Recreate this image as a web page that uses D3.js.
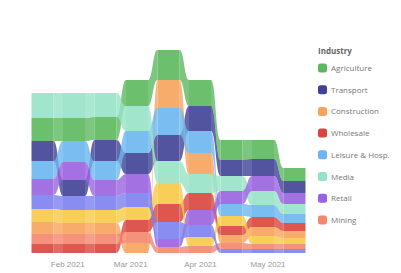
<!DOCTYPE html>
<html>
<head>
<meta charset="utf-8">
<script src="https://cdn.jsdelivr.net/npm/d3@7"></script>
<style>
  body { margin: 0; background: #fff; }
  svg { display: block; font-family: "Open Sans", sans-serif; }
</style>
</head>
<body>
<svg></svg>
<script>
// biweekly periods
const dates = ["2021-01-21", "2021-02-04", "2021-02-18", "2021-03-04", "2021-03-18",
               "2021-04-01", "2021-04-15", "2021-04-29", "2021-05-13"]

const seriesNames = ["Agriculture", "Transport", "Construction", "Wholesale",
  "Leisure & Hosp.", "Media", "Retail", "Mining", "Finance", "Education"]
const seriesColors = ["#5cb85c", "#3f4196", "#f7a35c", "#d9453d", "#6bb6f0",
  "#96e2c6", "#9a62e0", "#f4866e", "#f6c945", "#7c80ee"]

const agriculture  = [23, 23, 23, 26, 30, 26, 20, 19, 13]
const transport    = [20, 16, 21, 21, 26, 25, 16, 17, 12]
const construction = [12, 11, 11, 10, 28, 21, 8, 9, 7]
const wholesale    = [9, 9, 9, 12, 18, 17, 9, 10, 8]
const leisure      = [18, 21, 19, 22, 27, 22, 12, 12, 9]
const media        = [25, 25, 24, 25, 22, 19, 15, 14, 10]
const retail       = [16, 18, 16, 19, 8, 15, 13, 15, 11]
const mining       = [10, 10, 10, 11, 6, 7, 6, 5, 5]
const finance      = [13, 13, 13, 13, 21, 9, 10, 8, 6]
const education    = [14, 14, 14, 14, 17, 12, 4, 4, 4]

const legendCount = 8

function draw(){
  const width = 401, height = 273
  const svg = d3.select("svg").attr("width", width).attr("height", height)

  const values = [agriculture, transport, construction, wholesale, leisure,
                  media, retail, mining, finance, education]
  const parse = d3.timeParse("%Y-%m-%d")
  const days = dates.map(parse)
  const n = values.length

  const totals = days.map((d, j) => d3.sum(values, v => v[j]))

  const x = d3.scaleTime().domain(d3.extent(days)).range([42.5, 294.5])
  const y = d3.scaleLinear().domain([0, d3.max(totals)]).range([253, 50])
  const barW = 22

  // stack per period, biggest on top
  const pos = values.map(() => [])
  days.forEach((d, j) => {
    const order = d3.range(n).sort((a, b) => values[a][j] - values[b][j])
    let cum = 0
    order.forEach(s => {
      pos[s][j] = {lo: cum, hi: cum + values[s][j]}
      cum += values[s][j]
    })
  })

  const g = svg.append("g")

  // ribbons
  values.forEach((v, s) => {
    for (let j = 0; j < days.length - 1; j++) {
      const xa = x(days[j]) + barW / 2, xb = x(days[j + 1]) - barW / 2
      const xm = (xa + xb) / 2
      const a = pos[s][j], b = pos[s][j + 1]
      const p = d3.path()
      p.moveTo(xa, y(a.hi))
      p.bezierCurveTo(xm, y(a.hi), xm, y(b.hi), xb, y(b.hi))
      p.lineTo(xb, y(b.lo))
      p.bezierCurveTo(xm, y(b.lo), xm, y(a.lo), xa, y(a.lo))
      p.closePath()
      g.append("path")
        .attr("d", p.toString())
        .attr("fill", seriesColors[s])
        .attr("fill-opacity", 0.8)
    }
  })

  // bars
  values.forEach((v, s) => {
    g.selectAll(null)
      .data(days)
      .enter().append("rect")
        .attr("x", d => x(d) - barW / 2)
        .attr("y", (d, j) => y(pos[s][j].hi))
        .attr("width", barW)
        .attr("height", (d, j) => y(pos[s][j].lo) - y(pos[s][j].hi))
        .attr("fill", seriesColors[s])
        .attr("fill-opacity", 0.9)
  })

  const xAxis = d3.axisBottom(x)
    .ticks(d3.timeMonth.every(1))
    .tickFormat(d3.timeFormat("%b %Y"))
    .tickSize(0)

  const xAxisG = svg.append("g")
    .attr("transform", "translate(0,258)")
    .call(xAxis)
  xAxisG.select(".domain").remove()
  xAxisG.selectAll("text")
    .attr("fill", "#999")
    .style("font-size", "8px")

  // legend
  const lg = svg.append("g").attr("transform", "translate(318,0)")
  lg.append("text")
    .attr("x", 0).attr("y", 54)
    .attr("fill", "#666")
    .style("font-size", "8px")
    .style("font-weight", "bold")
    .text("Industry")

  const items = lg.selectAll(".item")
    .data(seriesNames.slice(0, legendCount))
    .enter().append("g")
      .attr("class", "item")
      .attr("transform", (d, i) => `translate(0,${68 + i * 21.7})`)
  items.append("rect")
    .attr("x", 0).attr("y", -4.5)
    .attr("width", 9).attr("height", 9)
    .attr("rx", 2.5)
    .attr("fill", (d, i) => seriesColors[i])
  items.append("text")
    .attr("x", 13).attr("y", 3)
    .attr("fill", "#777")
    .style("font-size", "8px")
    .text(d => d)
}

draw()
</script>
</body>
</html>
